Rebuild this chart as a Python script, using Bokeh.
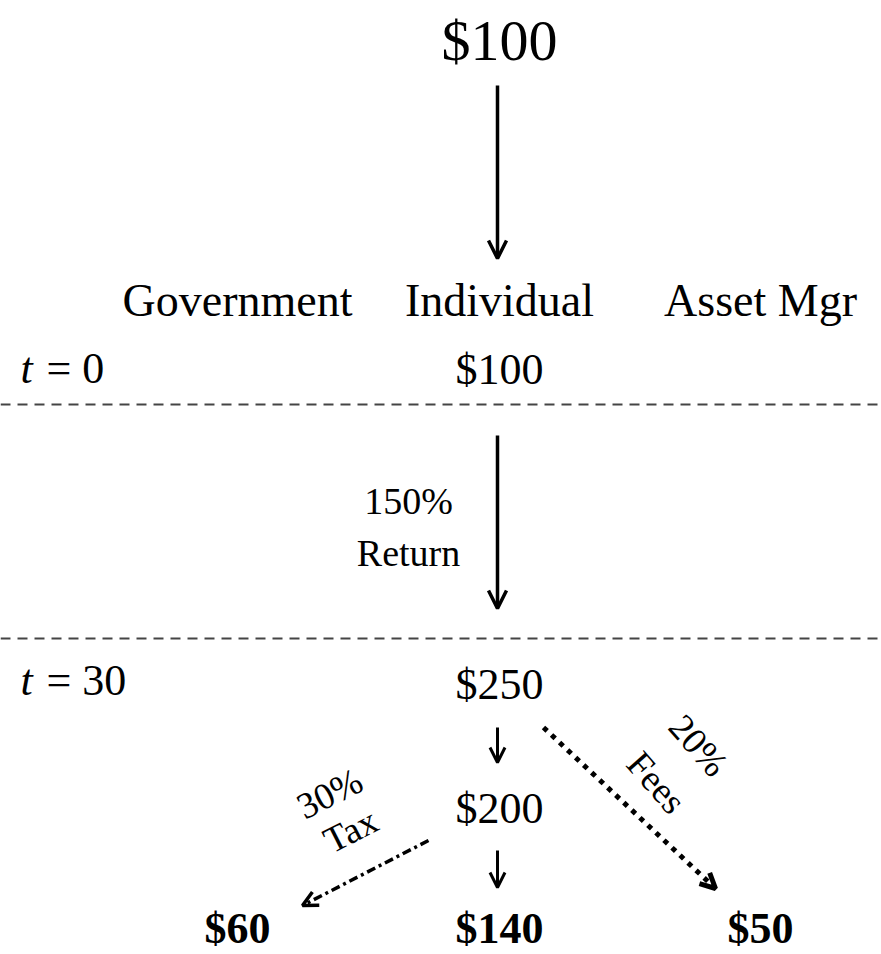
from bokeh.plotting import figure
from bokeh.models import Range1d, Arrow, OpenHead, Span
from bokeh.core.properties import value
from bokeh.embed import file_html
from bokeh.resources import INLINE

# ---- data (labels and amounts) ----
top_amount = ["$100"]
columns = ["Government", "Individual", "Asset Mgr"]
period_var = ["t", "t"]
period_val = ["= 0", "= 30"]
start_amount = ["$100"]
return_label = ["150%", "Return"]
gross_amount = ["$250"]
after_fee_amount = ["$200"]
tax_label = ["30%", "Tax"]
fee_label = ["20%", "Fees"]
final_amounts = ["$60", "$140", "$50"]

# ---- layout (page pixel coordinates) ----
W, H = 881, 954
FONT = "Liberation Serif"
col_x = [237, 499, 760]
mid_x = 497

p = figure(width=W, height=H, x_range=Range1d(0, W), y_range=Range1d(H, 0),
           output_backend="svg", toolbar_location=None, min_border=0,
           x_axis_type=None, y_axis_type=None)
p.grid.visible = False
p.outline_line_color = None
p.background_fill_color = "white"


def txt(xs, ys, texts, size, style="normal", angle=0.0, align="center"):
    p.text(x=xs, y=ys, text=texts, text_font=value(FONT),
           text_font_size=f"{size}px", text_font_style=style,
           text_align=align, text_baseline="middle", angle=angle,
           text_color="black")


def arrow(x0, y0, x1, y1, lw=3.5, dash="solid", size=18):
    p.add_layout(Arrow(x_start=x0, y_start=y0, x_end=x1, y_end=y1,
                       line_width=lw, line_dash=dash, line_color="black",
                       end=OpenHead(size=size, line_width=lw, line_color="black")))


# top
txt([499], [40], top_amount, 58)
arrow(mid_x, 85, mid_x, 258)

# column headers
txt(col_x, [300] * 3, columns, 46)

# t = 0 row
txt([20], [368], period_var[:1], 44, style="italic", align="left")
txt([46], [368], period_val[:1], 44, align="left")
txt([499], [369], start_amount, 44)

p.add_layout(Span(location=404, dimension="width", line_dash="10 7",
                  line_color="#444444", line_width=2))

# return
arrow(mid_x, 435, mid_x, 608)
txt([408, 408], [500, 552], return_label, 38)

p.add_layout(Span(location=638, dimension="width", line_dash="10 7",
                  line_color="#444444", line_width=2))

# t = 30 row
txt([20], [680], period_var[1:], 44, style="italic", align="left")
txt([46], [680], period_val[1:], 44, align="left")
txt([499], [684], gross_amount, 44)

arrow(mid_x, 727, mid_x, 762, lw=3, size=15)
txt([499], [808], after_fee_amount, 44)
arrow(mid_x, 850, mid_x, 887, lw=3, size=15)

# tax branch
arrow(428, 840, 302, 905, lw=3.5, dash="9 4 3 4", size=15)
txt([329, 350], [793, 830], tax_label, 37, angle=0.47)

# fees branch
arrow(543, 727, 715, 888, lw=5, dash="5 6", size=15)
txt([698, 656], [745, 782], fee_label, 37, angle=-0.85)

# final amounts
txt(col_x, [928] * 3, final_amounts, 44, style="bold")

open("out.html", "w").write(file_html(p, INLINE))
